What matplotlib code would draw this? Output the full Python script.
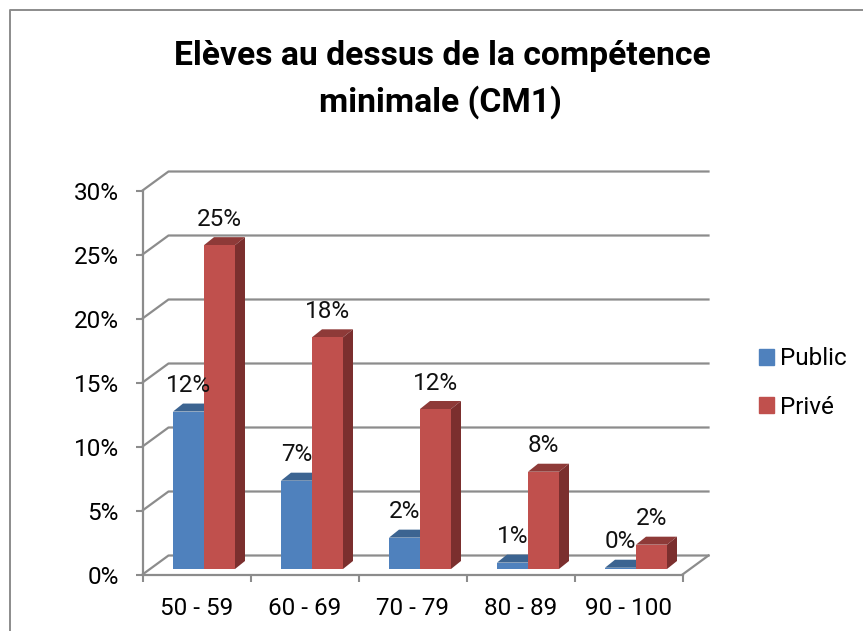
import matplotlib
matplotlib.use('Agg')
import matplotlib.pyplot as plt
from matplotlib.patches import Patch, Polygon

categorias = ['50 - 59', '60 - 69', '70 - 79', '80 - 89', '90 - 100']
public = [12.3, 6.9, 2.45, 0.5, 0.1]
prive = [25.3, 18.1, 12.5, 7.6, 1.9]
etiquettes_public = ['12%', '7%', '2%', '1%', '0%']
etiquettes_prive = ['25%', '18%', '12%', '8%', '2%']
graduations = [0, 5, 10, 15, 20, 25, 30]

plt.rcParams['font.family'] = ['Roboto', 'DejaVu Sans']

W, H = 863, 631
fig = plt.figure(figsize=(W / 100, H / 100), dpi=100)
ax = fig.add_axes([142.5 / W, 1 - 574.5 / H, 540 / W, 384 / H])
ax.set_xlim(0, 5)
ax.set_ylim(0, 30)
for s in ax.spines.values():
    s.set_visible(False)

px_x = 5 / 540
px_y = 30 / 384
gris = '#8c8c8c'

# mur du fond et plancher
prof_x = 26 * px_x
prof_y = 19 * px_y
for g in graduations:
    ax.plot([0, prof_x, 5 + prof_x], [g, g + prof_y, g + prof_y], color=gris, lw=1.6, clip_on=False, zorder=1)
ax.plot([5, 5 + prof_x], [0, prof_y], color=gris, lw=1.6, clip_on=False, zorder=1)
ax.plot([0, 0], [0, 30], color=gris, lw=1.6, clip_on=False, zorder=1)
ax.plot([0, 5], [0, 0], color=gris, lw=1.6, clip_on=False, zorder=1)

ax.set_xticks(range(6))
ax.set_xticklabels([])
ax.set_xticks([i + 0.5 for i in range(5)], minor=True)
ax.set_xticklabels(categorias, minor=True, fontsize=17.5)
ax.tick_params(axis='x', which='major', length=5, width=1.5, color=gris)
ax.tick_params(axis='x', which='minor', length=0, pad=16)
ax.set_yticks(graduations)
ax.set_yticklabels([str(g) + '%' for g in graduations], fontsize=17.5)
ax.tick_params(axis='y', length=5, width=1.5, color=gris, pad=12)

# barres avec faces 3D
base = 5.5 * px_y
larg = 31 * px_x
dx = 10 * px_x
dy = 8 * px_y
marge = 30.5 * px_x


def barres(valeurs, decal, avant, dessus, cote, etiquettes):
    for i, v in enumerate(valeurs):
        x0 = i + marge + decal
        z = 3 + i + decal
        ax.bar(x0, v, larg, bottom=base, align='edge', color=avant, zorder=z + 0.2)
        top = base + v
        ax.add_patch(Polygon([(x0, top), (x0 + dx, top + dy), (x0 + larg + dx, top + dy), (x0 + larg, top)],
                             color=dessus, lw=0, zorder=z))
        ax.add_patch(Polygon([(x0 + larg, base), (x0 + larg + dx, base + dy), (x0 + larg + dx, top + dy), (x0 + larg, top)],
                             color=cote, lw=0, zorder=z))
        ax.annotate(etiquettes[i], (x0 + larg / 2, top), xytext=(0, 26), textcoords='offset pixels',
                    ha='center', va='center', fontsize=17.5, color='#111111', zorder=30)


barres(public, 0, '#4f81bd', '#3c6491', '#3c6491', etiquettes_public)
barres(prive, larg, '#c0504d', '#8e3a38', '#7b2f2e', etiquettes_prive)

# titre
fig.text(442 / W, 1 - 56 / H, 'Elèves au dessus de la compétence', ha='center', va='center',
         fontsize=24.2, fontweight='bold', color='black')
fig.text(440 / W, 1 - 102 / H, 'minimale (CM1)', ha='center', va='center',
         fontsize=24.2, fontweight='bold', color='black')

# legende
poignees = [Patch(color='#4f81bd', label='Public'), Patch(color='#c0504d', label='Privé')]
fig.legend(handles=poignees, loc='center left', bbox_to_anchor=(759 / W, 1 - 383 / H), frameon=False,
           fontsize=17.5, handlelength=0.62, handleheight=0.62, handletextpad=0.25, labelspacing=1.05,
           borderpad=0, borderaxespad=0)

# cadre
fig.add_artist(plt.Line2D([10 / W, 10 / W, 1], [0, 1 - 10 / H, 1 - 10 / H], color=gris, lw=1.4))

fig.savefig('out.png', dpi=100)
